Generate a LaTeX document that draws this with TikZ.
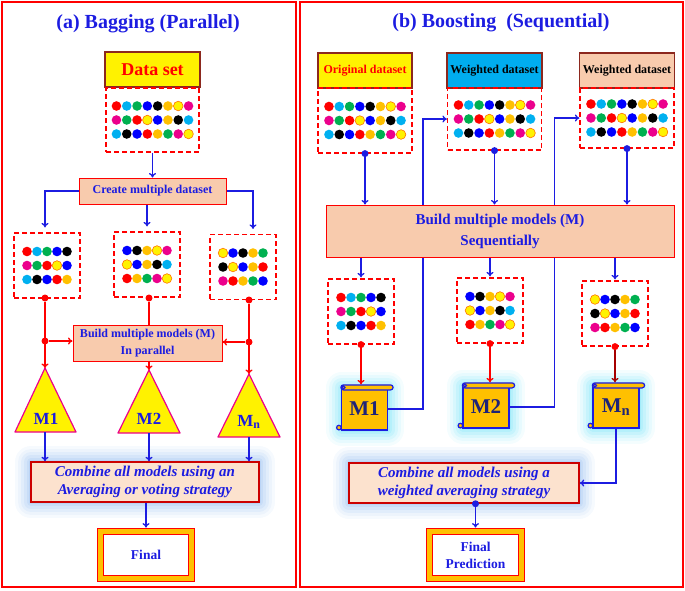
\documentclass[tikz,border=0pt]{standalone}
\usepackage{fontspec}
\setmainfont{Liberation Serif}
\usetikzlibrary{arrows.meta,positioning}
\definecolor{tblue}{RGB}{28,28,225}
\definecolor{peach}{RGB}{248,203,173}
\definecolor{lpeach}{RGB}{252,226,206}
\definecolor{gold}{RGB}{255,192,0}
\definecolor{dcyan}{RGB}{0,176,240}
\definecolor{dgreen}{RGB}{0,176,80}
\definecolor{navy}{RGB}{30,35,120}
\definecolor{brn}{RGB}{140,40,30}
\definecolor{skyglow}{RGB}{110,165,235}
\definecolor{cyglow}{RGB}{60,215,245}

\begin{document}
\begin{tikzpicture}[x=1pt,y=-1pt,>={To[length=4.5pt,width=7pt]},
bl/.style={draw=tblue,line width=1.3pt},
rl/.style={draw=red,line width=1.3pt},
dset/.style={draw=red,line width=1.2pt,dash pattern=on 5pt off 3pt},
box/.style={draw=red,line width=1pt,fill=peach,text=tblue,align=center},
bevel/.style={fill=#1,draw=brn,line width=1.5pt},
glow/.style={preaction={draw=#1,opacity=.06,line width=32pt,line join=round},
 preaction={draw=#1,opacity=.07,line width=26pt,line join=round},
 preaction={draw=#1,opacity=.09,line width=20pt,line join=round},
 preaction={draw=#1,opacity=.11,line width=14pt,line join=round},
 preaction={draw=#1,opacity=.13,line width=8pt,line join=round},
 preaction={draw=#1,opacity=.15,line width=4pt,line join=round}},
final/.style={draw=red,double=gold,double distance=5pt,line width=.8pt,fill=white,
 text=tblue,align=center,font=\fontsize{13.5}{17}\selectfont\bfseries},
bdot/.style={circle,fill=tblue,inner sep=0pt,minimum size=7pt},
rdot/.style={circle,fill=red,inner sep=0pt,minimum size=7pt},
tri/.style={fill=yellow,draw=magenta,line width=1.2pt,line join=round},
mtri/.style={text=tblue,font=\fontsize{17}{20}\selectfont\bfseries},
scroll/.style={fill=gold,draw=tblue,line width=1.2pt},
mscr/.style={scroll,minimum width=46,minimum height=42,text=navy,
 font=\fontsize{21}{24}\selectfont\bfseries},
dR/.style={fill=red},dC/.style={fill=dcyan},dG/.style={fill=dgreen},
dB/.style={fill=blue},dK/.style={fill=black},dO/.style={fill=gold},
dY/.style={fill=yellow,draw=orange!90!red,line width=.6pt},dM/.style={fill=magenta}]
\useasboundingbox (0,0) rectangle (685,590);

% frames and titles
\draw[red,line width=2pt] (2,2) rectangle (296,587);
\draw[red,line width=2pt] (299.5,2) rectangle (683,587);
\node[text=tblue,font=\fontsize{20}{24}\selectfont\bfseries] (TA) at (148,24) {(a) Bagging (Parallel)};
\node[text=tblue,font=\fontsize{20}{24}\selectfont\bfseries] (TB) at (501,23) {(b) Boosting\ \ (Sequential)};

%% (a) bagging
\node[bevel=yellow,minimum width=95,minimum height=35,text=red,font=\fontsize{18}{20}\selectfont\bfseries] (H0) at (152.5,69.5) {Data set};
\node[dset,minimum width=93,minimum height=64] (D0) at (152.5,120) {};
\node[box,minimum width=147,minimum height=26,font=\fontsize{12}{14}\selectfont\bfseries] (Cr) at (152.5,191) {Create multiple dataset};
\node[dset,minimum width=66,minimum height=65] (D1) at (47,265.5) {};
\node[dset,minimum width=66,minimum height=65] (D2) at (147,264.5) {};
\node[dset,minimum width=66,minimum height=65] (D3) at (243,267) {};
\node[box,minimum width=149,minimum height=36,font=\fontsize{12}{17}\selectfont\bfseries] (Bp) at (147.5,343) {Build multiple models (M)\\In parallel};

\draw[bl,->] (D0.south) -- (Cr.north);
\draw[bl,->,shorten >=5pt] (Cr.west) -| ([xshift=-2pt]D1.north);
\draw[bl,->,shorten >=5pt] (Cr.south -| D2.north) -- (D2.north);
\draw[bl,->,shorten >=5pt] (Cr.east) -| ([xshift=10pt]D3.north);

\node[rdot] (r1) at (45,298) {};
\node[rdot] (r2) at (149,298) {};
\node[rdot] (r3) at (249,300) {};
\node[rdot] (j1) at (45,341) {};
\node[rdot] (j3) at (249,342) {};

\coordinate (T1a) at (45,368); \coordinate (T1b) at (45,432);
\coordinate (T2a) at (149,370); \coordinate (T2b) at (149,433);
\coordinate (T3a) at (249,374); \coordinate (T3b) at (249,437);
\draw[tri] (T1a) -- (15,432) -- (76,432) -- cycle;
\draw[tri] (T2a) -- (118,433) -- (180,433) -- cycle;
\draw[tri] (T3a) -- (218,437) -- (280,437) -- cycle;
\node[mtri] (M1) at (46,419) {M1};
\node[mtri] (M2) at (149,419) {M2};
\node[mtri] (M3) at (249,422) {M\textsubscript{n}};

\draw[rl,->] (r1) -- (T1a);
\draw[rl,->] (j1) -- (j1 -| Bp.west);
\draw[rl] (r2) -- (r2 |- Bp.north);
\draw[rl,->] (r2 |- Bp.south) -- (T2a);
\draw[rl,->] (r3) -- (T3a);
\draw[rl,->] (j3) -- (j3 -| Bp.east);

\node[bevel=lpeach,draw=red!80!black,glow=skyglow,minimum width=228,minimum height=40,text=tblue,
 font=\fontsize{15}{18}\selectfont\bfseries\itshape,align=center] (Cl) at (145,482)
 {Combine all models using an\\Averaging or voting strategy};
\draw[bl,->] (T1b) -- (T1b |- Cl.north);
\draw[bl,->] (T2b) -- (T2b |- Cl.north);
\draw[bl,->] (T3b) -- (T3b |- Cl.north);
\node[final,minimum width=91,minimum height=47] (Fl) at (146,555) {Final};
\draw[bl,->,shorten >=3.5pt] (Cl.south -| Fl.north) -- (Fl.north);

%% (b) boosting
\node[bevel=yellow,minimum width=94,minimum height=35,text=red,font=\fontsize{12}{14}\selectfont\bfseries] (O1) at (365,70.5) {Original dataset};
\node[bevel=cyan,minimum width=94,minimum height=35,font=\fontsize{12}{14}\selectfont\bfseries] (O2) at (494.5,70.5) {Weighted dataset};
\node[bevel=peach,minimum width=94,minimum height=35,font=\fontsize{12}{14}\selectfont\bfseries] (O3) at (627,70.5) {Weighted dataset};
\node[dset,minimum width=94,minimum height=65] (E1) at (365,120.5) {};
\node[dset,minimum width=94,minimum height=62] (E2) at (494.5,119) {};
\node[dset,minimum width=94,minimum height=60] (E3) at (627,118) {};
\node[dset,minimum width=66,minimum height=65] (F1) at (361,311.5) {};
\node[dset,minimum width=66,minimum height=65] (F2) at (490,310.5) {};
\node[dset,minimum width=66,minimum height=65] (F3) at (615,313.5) {};

% data points
\foreach \n in {D0,E1,E2,E3}
 \foreach \row [count=\r] in {{R,C,G,B,K,O,Y,M},{M,G,R,Y,B,O,K,C},{C,K,B,R,O,G,M,Y}}
  \foreach \c [count=\k] in \row
   \path[d\c] ([shift={(\k*10.3-46.35,\r*14-28)}]\n.center) circle (4.8pt);
\foreach \n in {D1,F1}
 \foreach \row [count=\r] in {{R,C,G,B,K},{M,G,R,Y,B},{C,K,B,R,O}}
  \foreach \c [count=\k] in \row
   \path[d\c] ([shift={(\k*10-30,\r*14-28)}]\n.center) circle (4.8pt);
\foreach \n in {D2,F2}
 \foreach \row [count=\r] in {{B,K,O,Y,M},{Y,B,O,K,C},{R,O,G,M,Y}}
  \foreach \c [count=\k] in \row
   \path[d\c] ([shift={(\k*10-30,\r*14-28)}]\n.center) circle (4.8pt);
\foreach \n in {D3,F3}
 \foreach \row [count=\r] in {{Y,B,K,O,G},{K,Y,B,O,R},{M,R,O,G,B}}
  \foreach \c [count=\k] in \row
   \path[d\c] ([shift={(\k*10-30,\r*14-28)}]\n.center) circle (4.8pt);

\node[mscr,glow=cyglow] (S1) at (364.5,409) {M1};
\node[mscr,glow=cyglow] (S2) at (486,407) {M2};
\node[mscr,glow=cyglow] (S3) at (616,407) {M\textsubscript{n}};
\foreach \s in {S1,S2,S3}{
 \draw[scroll,rounded corners=2.5pt] ([yshift=2.5pt]\s.north west) rectangle ([xshift=5pt,yshift=-2.5pt]\s.north east);
 \draw[scroll] ([xshift=2.5pt]\s.north west) circle (1.6pt);
 \draw[scroll] ([xshift=-2pt,yshift=3pt]\s.south west) circle (2.3pt);
}

\draw[bl,->] (S1.east) -| ([xshift=-24pt]E2.west) -- (E2.west);
\draw[bl,->] (S2.east) -| ([xshift=-25pt]E3.west) -- (E3.west);

\node[box,minimum width=348,minimum height=52,font=\fontsize{15}{21}\selectfont\bfseries] (Bs) at (500,231) {Build multiple models (M)\\Sequentially};

\node[bdot] (b1) at (E1.south) {};
\node[bdot] (b2) at (E2.south) {};
\node[bdot] (b3) at (E3.south) {};
\draw[bl,->] (b1) -- (b1 |- Bs.north);
\draw[bl,->] (b2) -- (b2 |- Bs.north);
\draw[bl,->] (b3) -- (b3 |- Bs.north);
\draw[bl,->,shorten >=1pt] (F1.north |- Bs.south) -- (F1.north);
\draw[bl,->,shorten >=1pt] (F2.north |- Bs.south) -- (F2.north);
\draw[bl,->,shorten >=1pt] (F3.north |- Bs.south) -- (F3.north);

\node[rdot] (r4) at (F1.south) {};
\node[rdot] (r5) at (F2.south) {};
\node[rdot] (r6) at (F3.south) {};
\draw[rl,->,shorten >=3pt] (r4) -- (r4 |- S1.north);
\draw[rl,->,shorten >=3pt] (r5) -- (r5 |- S2.north);
\draw[rl,draw=red!65!black,->,shorten >=3pt] (r6) -- (r6 |- S3.north);

\node[bevel=lpeach,draw=red!80!black,glow=skyglow,minimum width=230,minimum height=40,text=tblue,
 font=\fontsize{15}{18}\selectfont\bfseries\itshape,align=center] (Cs) at (464,483)
 {Combine all models using a\\weighted averaging strategy};
\draw[bl,->] (S3.south) |- (Cs.east);
\node[final,minimum width=92,minimum height=47] (FP) at (475.5,555) {Final\\Prediction};
\node[bdot] (b4) at (Cs.south -| FP.north) {};
\draw[bl,->,shorten >=3.5pt] (b4) -- (FP.north);

\end{tikzpicture}
\end{document}
